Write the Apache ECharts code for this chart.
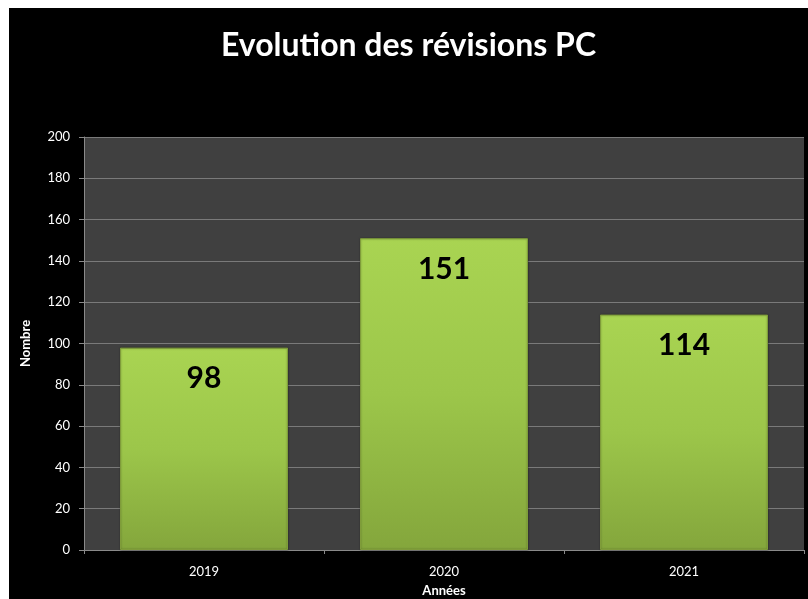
<!DOCTYPE html>
<html>
<head>
<meta charset="utf-8">
<script src="https://cdn.jsdelivr.net/npm/echarts@6/dist/echarts.min.js"></script>
<style>
	html, body { margin: 0; padding: 0; background: #ffffff; }
	#chart { position: absolute; left: 9px; top: 8px; width: 799px; height: 591px; background: #000000; }
</style>
</head>
<body>
<div id="chart"></div>
<script>
	// données
	var annees = ['2019', '2020', '2021'];
	var revisions = [98, 151, 114];

	var chart = echarts.init(document.getElementById('chart'));
	var font = 'Lato, "Open Sans", sans-serif';

	var options = {
		backgroundColor: '#000000',
		animation: false,
		title: {
			text: 'Evolution des révisions PC',
			left: 'center',
			top: 22,
			padding: 0,
			textStyle: { color: '#ffffff', fontSize: 32, fontWeight: 'bold', fontFamily: font }
		},
		grid: {
			left: 75,
			right: 4,
			top: 129,
			bottom: 49,
			outerBoundsMode: 'none',
			show: true,
			backgroundColor: '#404040',
			borderWidth: 0
		},
		xAxis: {
			type: 'category',
			data: annees,
			name: 'Années',
			nameLocation: 'middle',
			nameGap: 34,
			nameTextStyle: { color: '#ffffff', fontSize: 13, fontWeight: 'bold', fontFamily: font },
			axisLine: { lineStyle: { color: '#8a8a8a', width: 1 } },
			axisTick: { show: true, length: 4, lineStyle: { color: '#8a8a8a' } },
			axisLabel: { color: '#ffffff', fontSize: 13, margin: 15, fontFamily: font }
		},
		yAxis: {
			type: 'value',
			min: 0,
			max: 200,
			interval: 20,
			name: 'Nombre',
			nameLocation: 'middle',
			nameGap: 52,
			nameTextStyle: { color: '#ffffff', fontSize: 13, fontWeight: 'bold', fontFamily: font },
			axisLine: { show: true, lineStyle: { color: '#8a8a8a', width: 1 } },
			axisTick: { show: true, length: 5, lineStyle: { color: '#8a8a8a' } },
			axisLabel: { color: '#ffffff', fontSize: 13, margin: 14, fontFamily: font },
			splitLine: { lineStyle: { color: '#7a7a7a', width: 1 } }
		},
		series: [
			{
				type: 'bar',
				data: revisions,
				barWidth: '70%',
				itemStyle: {
					color: new echarts.graphic.LinearGradient(0, 0, 0, 1, [
						{ offset: 0, color: '#a9d452' },
						{ offset: 0.5, color: '#9cc64a' },
						{ offset: 1, color: '#84a63c' }
					]),
					borderColor: '#7f9c3a',
					borderWidth: 1,
					shadowColor: 'rgba(0,0,0,0.35)',
					shadowBlur: 2
				},
				label: {
					show: true,
					position: 'insideTop',
					distance: 16,
					color: '#000000',
					fontSize: 30,
					fontWeight: 'bold',
					fontFamily: font
				}
			}
		]
	};
	chart.setOption(options);
</script>
</body>
</html>
